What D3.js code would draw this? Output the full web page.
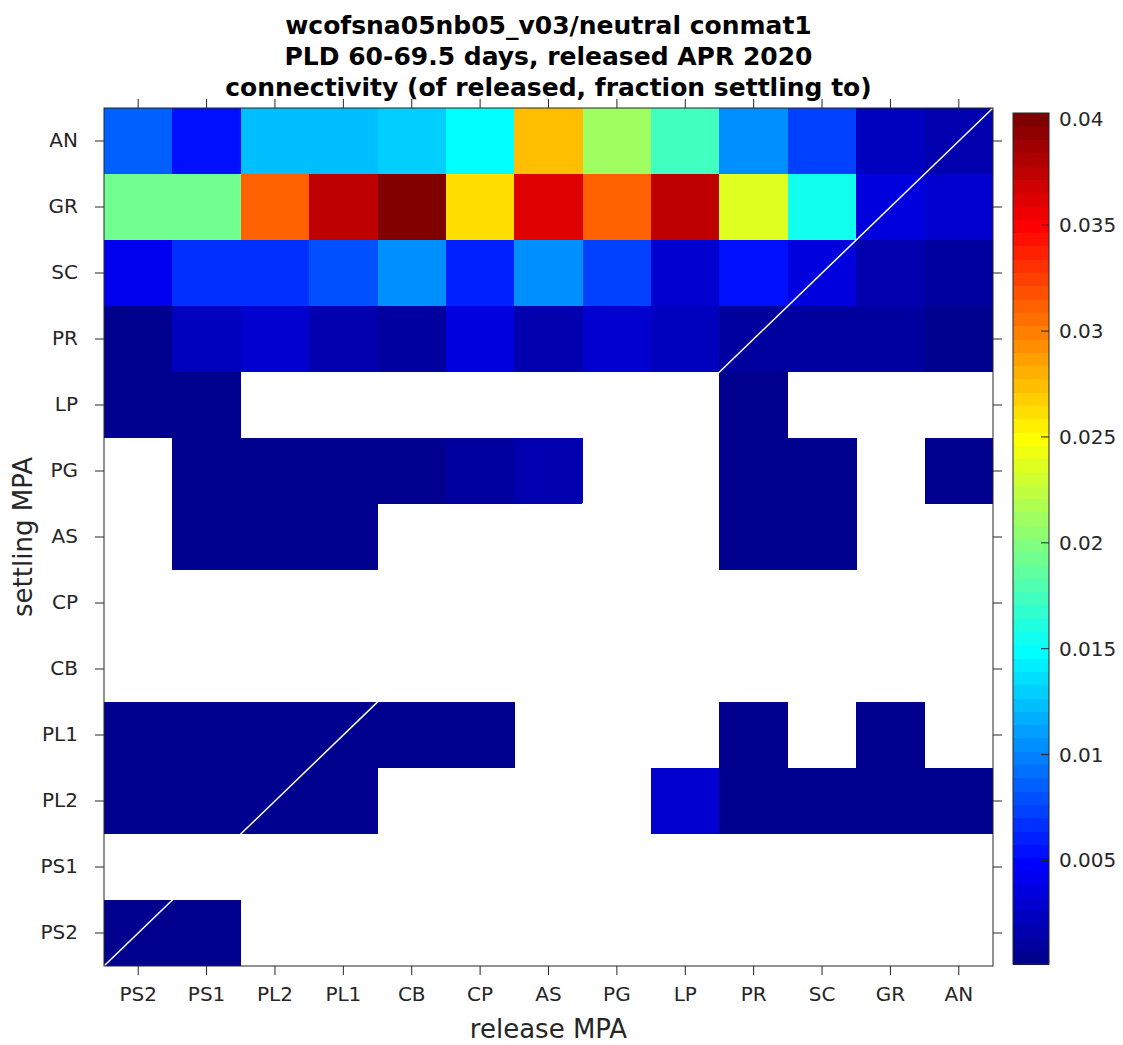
<!DOCTYPE html>
<html>
<head>
<meta charset="utf-8">
<script src="https://cdn.jsdelivr.net/npm/d3@7/dist/d3.min.js"></script>
<style>
  html, body { margin: 0; padding: 0; background: #fff; }
  svg { display: block; }
</style>
</head>
<body>
<svg id="chart" width="1123" height="1045"></svg>
<script>
// Release and settling MPAs (columns left→right, rows top→bottom)
const releaseMPA = ["PS2", "PS1", "PL2", "PL1", "CB", "CP", "AS", "PG", "LP", "PR", "SC", "GR", "AN"];
const settleMPA  = ["AN", "GR", "SC", "PR", "LP", "PG", "AS", "CP", "CB", "PL1", "PL2", "PS1", "PS2"];

// Fraction of released larvae settling to each MPA (null = none settled)
// each array is one settling MPA, ordered by releaseMPA
const toAN  = [0.00858, 0.00544, 0.0122, 0.0125, 0.01299, 0.01487, 0.02742, 0.02114, 0.01737, 0.01046, 0.00732, 0.0023, 0.00167];
const toGR  = [0.0192, 0.0193, 0.0311, 0.0374, 0.0403, 0.0262, 0.0362, 0.0312, 0.0375, 0.0236, 0.0155, 0.00355, 0.00293];
const toSC  = [0.00418, 0.0067, 0.0066, 0.00795, 0.01046, 0.00607, 0.0105, 0.00732, 0.00293, 0.00544, 0.00355, 0.00167, 0.00104];
const toPR  = [0.0004, 0.0023, 0.00293, 0.00167, 0.00104, 0.00355, 0.00167, 0.00293, 0.0023, 0.00104, 0.00104, 0.00104, 0.0004];
const toLP  = [0.0003, 0.0005, null, null, null, null, null, null, null, 0.0004, null, null, null];
const toPG  = [null, 0.0005, 0.0003, 0.0004, 0.0005, 0.00104, 0.00167, null, null, 0.0003, 0.0004, null, 0.0003];
const toAS  = [null, 0.0004, 0.0003, 0.0002, null, null, null, null, null, 0.0005, 0.0002, null, null];
const toCP  = [null, null, null, null, null, null, null, null, null, null, null, null, null];
const toCB  = [null, null, null, null, null, null, null, null, null, null, null, null, null];
const toPL1 = [0.0005, 0.0004, 0.0003, 0.0004, 0.0006, 0.0005, null, null, null, 0.0003, null, 0.0002, null];
const toPL2 = [0.0004, 0.0005, 0.0003, 0.0005, null, null, null, null, 0.00293, 0.0004, 0.0003, 0.0002, 0.00011];
const toPS1 = [null, null, null, null, null, null, null, null, null, null, null, null, null];
const toPS2 = [0.0003, 0.0002, null, null, null, null, null, null, null, null, null, null, null];

const settleRows = [toAN, toGR, toSC, toPR, toLP, toPG, toAS, toCP, toCB, toPL1, toPL2, toPS1, toPS2];

const cbarTicks  = [0.005, 0.01, 0.015, 0.02, 0.025, 0.03, 0.035, 0.04];
const cbarLabels = ["0.005", "0.01", "0.015", "0.02", "0.025", "0.03", "0.035", "0.04"];

const titleLines = [
  "wcofsna05nb05_v03/neutral conmat1",
  "PLD 60-69.5 days, released APR 2020",
  "connectivity (of released, fraction settling to)"
];

// 64-level jet colormap
function jet(m) {
  const n = Math.ceil(m / 4);
  const u = [];
  for (let i = 1; i <= n; i++) u.push(i / n);
  for (let i = 1; i < n; i++) u.push(1);
  for (let i = n; i >= 1; i--) u.push(i / n);
  const g0 = Math.ceil(n / 2) - (m % 4 === 1 ? 1 : 0);
  const J = d3.range(m).map(() => [0, 0, 0]);
  u.forEach((val, k) => {
    const g = g0 + k + 1, r = g + n, b = g - n;
    if (r >= 1 && r <= m) J[r - 1][0] = val;
    if (g >= 1 && g <= m) J[g - 1][1] = val;
    if (b >= 1 && b <= m) J[b - 1][2] = val;
  });
  return J.map(c => d3.rgb(c[0] * 255, c[1] * 255, c[2] * 255).formatHex());
}
const jetColors = jet(64);

const cells = [];
settleRows.forEach((row, i) => row.forEach((v, j) => {
  if (v !== null) cells.push({ settle: settleMPA[i], release: releaseMPA[j], value: v });
}));

const extent = d3.extent(cells, d => d.value);
const color = d3.scaleQuantize().domain(extent).range(jetColors);

const svg = d3.select("#chart");
const plot = { left: 104, right: 993, top: 108, bottom: 966 };
const axisColor = "#262626";
const font = "'DejaVu Sans', sans-serif";

const x = d3.scaleBand().domain(releaseMPA).range([plot.left, plot.right]);
const y = d3.scaleBand().domain(settleMPA).range([plot.top, plot.bottom]);

// heatmap cells
svg.append("g").selectAll("rect").data(cells).join("rect")
  .attr("x", d => x(d.release))
  .attr("y", d => y(d.settle))
  .attr("width", x.bandwidth() + 0.3)
  .attr("height", y.bandwidth() + 0.3)
  .attr("fill", d => color(d.value))
  .attr("shape-rendering", "crispEdges");

// self-recruitment diagonal
svg.append("line")
  .attr("x1", x.range()[0]).attr("y1", y.range()[1])
  .attr("x2", x.range()[1]).attr("y2", y.range()[0])
  .attr("stroke", "#fff").attr("stroke-width", 1.5);

// axes
function styleAxis(g, noLabels) {
  g.select(".domain").remove();
  g.selectAll(".tick line").attr("stroke", axisColor);
  g.selectAll(".tick text")
    .attr("fill", axisColor)
    .style("font-family", font)
    .style("font-size", "20px");
  if (noLabels) g.selectAll(".tick text").remove();
}
svg.append("g").attr("transform", `translate(0,${plot.bottom})`)
  .call(d3.axisBottom(x).tickSize(9).tickPadding(12))
  .call(g => styleAxis(g, false));
svg.append("g").attr("transform", `translate(0,${plot.top})`)
  .call(d3.axisTop(x).tickSize(9))
  .call(g => styleAxis(g, true));
svg.append("g").attr("transform", `translate(${plot.left},0)`)
  .call(d3.axisLeft(y).tickSize(9).tickPadding(17))
  .call(g => styleAxis(g, false));
svg.append("g").attr("transform", `translate(${plot.right},0)`)
  .call(d3.axisRight(y).tickSize(9))
  .call(g => styleAxis(g, true));

svg.append("rect")
  .attr("x", plot.left).attr("y", plot.top)
  .attr("width", plot.right - plot.left).attr("height", plot.bottom - plot.top)
  .attr("fill", "none").attr("stroke", axisColor).attr("stroke-width", 1);

// axis labels
svg.append("text")
  .attr("x", (plot.left + plot.right) / 2).attr("y", 1038)
  .attr("text-anchor", "middle")
  .attr("fill", axisColor)
  .style("font-family", font).style("font-size", "26px")
  .text("release MPA");
svg.append("text")
  .attr("transform", `translate(32,${(plot.top + plot.bottom) / 2}) rotate(-90)`)
  .attr("text-anchor", "middle")
  .attr("fill", axisColor)
  .style("font-family", font).style("font-size", "26px")
  .text("settling MPA");

// title
svg.append("g").selectAll("text").data(titleLines).join("text")
  .attr("x", (plot.left + plot.right) / 2)
  .attr("y", (d, i) => 34 + i * 31)
  .attr("text-anchor", "middle")
  .attr("fill", "#000")
  .style("font-family", font).style("font-size", "25px").style("font-weight", "bold")
  .text(d => d);

// colorbar
const cbar = { left: 1013, right: 1049, top: 113, bottom: 964 };
const cy = d3.scaleLinear().domain(extent).range([cbar.bottom, cbar.top]);
const edges = [extent[0], ...color.thresholds(), extent[1]];
svg.append("g").selectAll("rect").data(jetColors).join("rect")
  .attr("x", cbar.left)
  .attr("width", cbar.right - cbar.left)
  .attr("y", (d, i) => cy(edges[i + 1]))
  .attr("height", (d, i) => cy(edges[i]) - cy(edges[i + 1]) + 0.5)
  .attr("fill", d => d)
  .attr("shape-rendering", "crispEdges");
svg.append("rect")
  .attr("x", cbar.left).attr("y", cbar.top)
  .attr("width", cbar.right - cbar.left).attr("height", cbar.bottom - cbar.top)
  .attr("fill", "none").attr("stroke", axisColor).attr("stroke-width", 1);
const cbTicks = svg.append("g").selectAll("g").data(cbarTicks).join("g")
  .attr("transform", d => `translate(0,${cy(d)})`);
cbTicks.append("line")
  .attr("x1", cbar.right - 8).attr("x2", cbar.right)
  .attr("stroke", axisColor);
cbTicks.append("text")
  .attr("x", cbar.right + 10)
  .attr("dy", "0.35em")
  .attr("fill", axisColor)
  .style("font-family", font).style("font-size", "20px")
  .text((d, i) => cbarLabels[i]);
</script>
</body>
</html>
